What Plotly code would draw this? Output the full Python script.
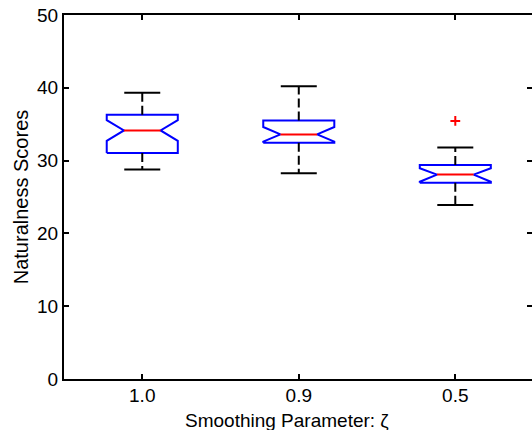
import plotly.graph_objects as go

# ---- data ----
categories = ["1.0", "0.9", "0.5"]
q1 = [31.05, 32.45, 26.95]
median = [34.15, 33.6, 28.08]
q3 = [36.3, 35.5, 29.38]
notch_lo = [32.72, 32.6, 27.1]
notch_hi = [35.55, 34.62, 28.95]
whisker_lo = [28.78, 28.25, 23.9]
whisker_hi = [39.32, 40.2, 31.8]
outliers = [[], [], [35.45]]
y_ticks = [0, 10, 20, 30, 40, 50]
x_title = "Smoothing Parameter: ζ"
y_title = "Naturalness Scores"

# ---- style constants ----
BOX_HALF = 0.227
NOTCH_HALF = 0.117
CAP_HALF = 0.115
BLUE = "#0000ff"
RED = "#ff0000"
FONT = "Liberation Sans, Arial, sans-serif"
FS = 19

fig = go.Figure()
positions = list(range(1, len(categories) + 1))

for i, x in enumerate(positions):
    w, nw = BOX_HALF, NOTCH_HALF
    fig.add_trace(go.Scatter(
        x=[x - w, x - w, x - nw, x - w, x - w, x + w, x + w, x + nw, x + w, x + w, x - w],
        y=[q1[i], notch_lo[i], median[i], notch_hi[i], q3[i], q3[i], notch_hi[i], median[i], notch_lo[i], q1[i], q1[i]],
        mode="lines", line=dict(color=BLUE, width=2), hoverinfo="skip", showlegend=False))
    for a, b in ((q3[i], whisker_hi[i]), (q1[i], whisker_lo[i])):
        fig.add_trace(go.Scatter(
            x=[x, x], y=[a, b], mode="lines",
            line=dict(color="black", width=2, dash="9px,4px"),
            hoverinfo="skip", showlegend=False))
    for c in (whisker_hi[i], whisker_lo[i]):
        fig.add_trace(go.Scatter(
            x=[x - CAP_HALF, x + CAP_HALF], y=[c, c], mode="lines",
            line=dict(color="black", width=2), hoverinfo="skip", showlegend=False))
    fig.add_trace(go.Scatter(
        x=[x - nw, x + nw], y=[median[i], median[i]], mode="lines",
        line=dict(color=RED, width=2), hoverinfo="skip", showlegend=False))
    if outliers[i]:
        fig.add_trace(go.Scatter(
            x=[x] * len(outliers[i]), y=outliers[i], mode="markers",
            marker=dict(symbol="cross-thin", size=7, line=dict(color=RED, width=2)),
            hoverinfo="skip", showlegend=False))

# invisible helper trace so the right-hand tick axis is drawn
fig.add_trace(go.Scatter(x=[None], y=[None], yaxis="y2", showlegend=False, hoverinfo="skip"))

fig.update_layout(
    width=532, height=430,
    margin=dict(l=64, r=0, t=15, b=51, autoexpand=False),
    paper_bgcolor="white", plot_bgcolor="white",
    font=dict(family=FONT, size=FS, color="black"),
    xaxis=dict(
        range=[0.5, 3.49], tickmode="array", tickvals=positions, ticktext=categories,
        showline=True, linecolor="black", linewidth=2, mirror="ticks",
        ticks="inside", ticklen=5, tickwidth=1.5, tickcolor="black",
        showgrid=False, zeroline=False, ticklabelstandoff=-2, automargin=False,
    ),
    yaxis=dict(
        range=[0, 50], tickmode="array", tickvals=y_ticks, ticktext=[str(v) for v in y_ticks],
        showline=True, linecolor="black", linewidth=2, mirror=False,
        ticks="inside", ticklen=5, tickwidth=1.5, tickcolor="black",
        showgrid=False, zeroline=False, ticklabelstandoff=0, automargin=False,
        title=dict(text=y_title, standoff=3, font=dict(family=FONT, size=20, color="black")),
    ),
    yaxis2=dict(
        overlaying="y", side="right", range=[0, 50], tickmode="array", tickvals=y_ticks,
        showticklabels=False, showline=False, ticks="inside", ticklen=5, tickwidth=1.5,
        tickcolor="black", showgrid=False, zeroline=False, automargin=False,
    ),
    annotations=[dict(
        text=x_title, xref="paper", yref="paper", x=0.476, y=-0.113,
        xanchor="center", yanchor="middle", showarrow=False,
        font=dict(family=FONT, size=FS, color="black"),
    )],
)

fig.write_html(
    "out.html",
    config={"displayModeBar": False},
    post_script="document.body.style.margin='0';document.body.style.overflow='hidden';",
)
